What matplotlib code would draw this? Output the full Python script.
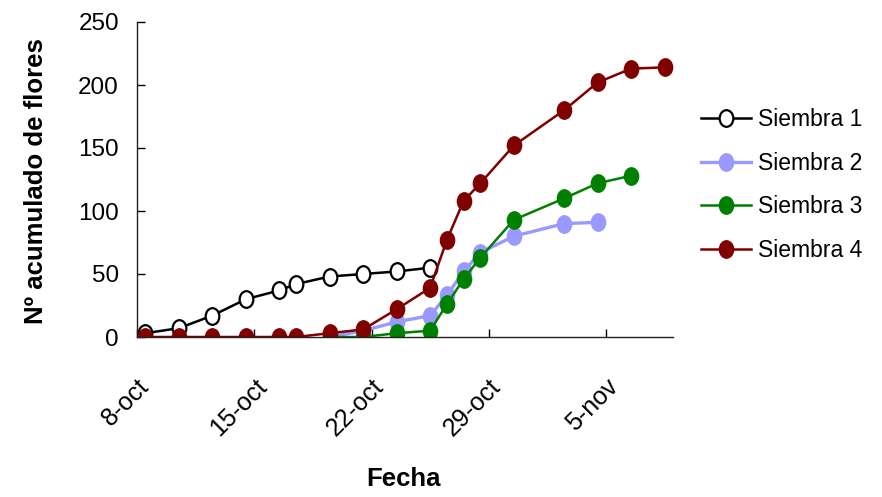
import matplotlib.pyplot as plt
import matplotlib.dates as mdates
from matplotlib.path import Path
import pandas as pd

plt.rcParams['font.family'] = ['Liberation Sans', 'DejaVu Sans']

# cumulative flower counts per sowing
s1_dates = ['2008-10-08', '2008-10-10', '2008-10-12', '2008-10-14', '2008-10-16',
            '2008-10-17', '2008-10-19', '2008-10-21', '2008-10-23', '2008-10-25']
s1_vals = [3, 7, 17, 30, 37, 42, 48, 50, 52, 55]

s2_dates = ['2008-10-19', '2008-10-21', '2008-10-23', '2008-10-25', '2008-10-26',
            '2008-10-27', '2008-10-28', '2008-10-30', '2008-11-02', '2008-11-04']
s2_vals = [0, 5, 12, 17, 33, 52, 67, 80, 90, 91]

s3_dates = ['2008-10-19', '2008-10-21', '2008-10-23', '2008-10-25', '2008-10-26',
            '2008-10-27', '2008-10-28', '2008-10-30', '2008-11-02', '2008-11-04',
            '2008-11-06']
s3_vals = [0, 0, 3, 5, 26, 46, 63, 93, 110, 122, 128]

s4_dates = ['2008-10-08', '2008-10-10', '2008-10-12', '2008-10-14', '2008-10-16',
            '2008-10-17', '2008-10-19', '2008-10-21', '2008-10-23', '2008-10-25',
            '2008-10-26', '2008-10-27', '2008-10-28', '2008-10-30', '2008-11-02',
            '2008-11-04', '2008-11-06', '2008-11-08']
s4_vals = [0, 0, 0, 0, 0, 0, 3, 6, 22, 39, 77, 108, 122, 152, 180, 202, 213, 214]

tick_dates = ['2008-10-08', '2008-10-15', '2008-10-22', '2008-10-29', '2008-11-05']
tick_labels = ['8-oct', '15-oct', '22-oct', '29-oct', '5-nov']


def day_center(dates):
    # points sit in the middle of each day slot
    return mdates.date2num(pd.to_datetime(dates)) + 0.5


# slightly tall oval marker
circ = Path.unit_circle()
oval = Path(circ.vertices * [0.82, 1.0], circ.codes)

fig = plt.figure(figsize=(8.82, 4.97), dpi=100)
ax = fig.add_axes([137 / 882, 1 - 337 / 497, 536 / 882, 315 / 497])

ms = 12.5
ax.plot(day_center(s1_dates), s1_vals, '-', marker=oval, color='black', lw=1.8,
        markerfacecolor='white', markeredgecolor='black', markeredgewidth=1.6,
        markersize=ms - 0.5, label='Siembra 1')
ax.plot(day_center(s2_dates), s2_vals, '-', marker=oval, color='#9999FF', lw=2.4,
        markeredgecolor='#9999FF', markersize=ms, label='Siembra 2')
ax.plot(day_center(s3_dates), s3_vals, '-', marker=oval, color='#008000', lw=1.8,
        markeredgecolor='#008000', markersize=ms, label='Siembra 3')
ax.plot(day_center(s4_dates), s4_vals, '-', marker=oval, color='#800000', lw=1.8,
        markeredgecolor='#800000', markersize=ms, label='Siembra 4')

start = mdates.date2num(pd.to_datetime('2008-10-08'))
ax.set_xlim(start, start + 32)
ax.set_ylim(0, 250)
ax.set_yticks([0, 50, 100, 150, 200, 250])
ax.set_xticks(mdates.date2num(pd.to_datetime(tick_dates)))
ax.set_xticklabels(tick_labels)

for side in ['top', 'right']:
    ax.spines[side].set_visible(False)
for side in ['left', 'bottom']:
    ax.spines[side].set_linewidth(1.0)
    ax.spines[side].set_color('#222222')

ax.tick_params(axis='y', direction='in', length=5.5, width=1, labelsize=17.5, pad=13)
ax.tick_params(axis='x', direction='in', length=5.5, width=1, labelsize=18, pad=27)
for lbl in ax.get_xticklabels():
    lbl.set_rotation(45)
    lbl.set_rotation_mode('anchor')
    lbl.set_ha('right')
    lbl.set_va('top')

fig.text(36 / 882, 1 - 181 / 497, 'Nº acumulado de flores', rotation=90,
         ha='center', va='center', fontsize=18.5, fontweight='bold')
fig.text(404 / 882, 1 - 479 / 497, 'Fecha', ha='center', va='center',
         fontsize=18.5, fontweight='bold')

ax.legend(loc='upper left', bbox_to_anchor=(701 / 882, 1 - 108 / 497),
          bbox_transform=fig.transFigure, frameon=False, fontsize=16.5,
          numpoints=1, handlelength=2.2, handletextpad=0.3, labelspacing=0.9,
          borderaxespad=0, borderpad=0)

fig.savefig('out.png', dpi=100)
